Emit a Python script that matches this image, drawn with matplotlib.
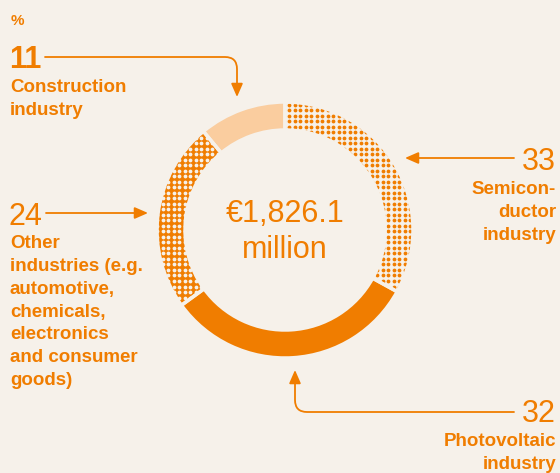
import numpy as np
import matplotlib.pyplot as plt

# ---- data ----
segments = ['Semiconductor industry', 'Photovoltaic industry',
            'Other industries', 'Construction industry']
shares = [33, 32, 24, 11]
total_label = ['€1,826.1', 'million']

BG = '#F6F1EA'
ORANGE = '#F07D00'
PEACH = '#FACD9F'

W, H = 560, 473
plt.rcParams['font.family'] = ['Liberation Sans', 'DejaVu Sans']

fig = plt.figure(figsize=(W / 100, H / 100), dpi=100)
fig.patch.set_facecolor(BG)
ax = fig.add_axes([0, 0, 1, 1])


def py(y):
    # pixel row (top-down) -> data y
    return H - y


cx, cy, R, ring = 285, py(230), 128, 28

# fills: (face, dot colour or None)
fills = [(BG, ORANGE), (ORANGE, None), (ORANGE, BG), (PEACH, None)]

wedges, _ = ax.pie(shares, center=(cx, cy), radius=R, startangle=90,
                   counterclock=False, frame=True,
                   colors=[f[0] for f in fills],
                   wedgeprops=dict(width=ring, linewidth=0, zorder=2))

# --- dotted texture for patterned segments ---
step = 5.5
gx, gy = np.meshgrid(np.arange(cx - R, cx + R, step),
                     np.arange(cy - R, cy + R, step))
for wedge, (face, dot) in zip(wedges, fills):
    if dot is None:
        continue
    sc = ax.scatter(gx.ravel(), gy.ravel(), s=7.5, color=dot,
                    linewidths=0, zorder=3)
    sc.set_clip_path(wedge)

# gaps between segments drawn on top
ax.pie(shares, center=(cx, cy), radius=R, startangle=90,
       counterclock=False, frame=True, colors=['none'] * 4,
       wedgeprops=dict(width=ring, edgecolor=BG, linewidth=2.5, zorder=4))

ax.set_xlim(0, W)
ax.set_ylim(0, H)
ax.set_aspect('equal')
ax.axis('off')

# --- centre text ---
ax.text(cx, py(214), total_label[0], ha='center', va='center',
        fontsize=22, color=ORANGE)
ax.text(cx, py(250), total_label[1], ha='center', va='center',
        fontsize=22, color=ORANGE)

# --- labels ---
big = dict(fontsize=22, color=ORANGE, va='baseline')
small = dict(fontsize=13.5, fontweight='bold', color=ORANGE,
             linespacing=1.45, va='top')

ax.text(11, py(25), '%', fontsize=11, fontweight='bold', color=ORANGE,
        va='baseline')

ax.text(9, py(68), '11', ha='left', fontweight='bold', **big)
ax.text(10, py(79), 'Construction\nindustry', ha='left', **small)

ax.text(556, py(170), '33', ha='right', **big)
ax.text(556, py(181), 'Semicon-\nductor\nindustry', ha='right',
        multialignment='right', **small)

ax.text(9, py(225), '24', ha='left', **big)
ax.text(10, py(235), 'Other\nindustries (e.g.\nautomotive,\nchemicals,\n'
        'electronics\nand consumer\ngoods)', ha='left', **small)

ax.text(556, py(422), '32', ha='right', **big)
ax.text(556, py(433), 'Photovoltaic\nindustry', ha='right',
        multialignment='right', **small)

# --- leader arrows ---
arrow = dict(arrowstyle='-|>,head_length=0.8,head_width=0.35',
             color=ORANGE, lw=1.3, shrinkA=0, shrinkB=0, mutation_scale=10)

ax.annotate('', xy=(237, py(97)), xytext=(45, py(57)),
            arrowprops=dict(connectionstyle='angle,angleA=0,angleB=90,rad=12',
                            **arrow))
ax.annotate('', xy=(405, py(158)), xytext=(514, py(158)), arrowprops=arrow)
ax.annotate('', xy=(148, py(213)), xytext=(46, py(213)), arrowprops=arrow)
ax.annotate('', xy=(295, py(370)), xytext=(514, py(412)),
            arrowprops=dict(connectionstyle='angle,angleA=0,angleB=90,rad=12',
                            **arrow))

fig.savefig('out.png', dpi=100, facecolor=BG)
